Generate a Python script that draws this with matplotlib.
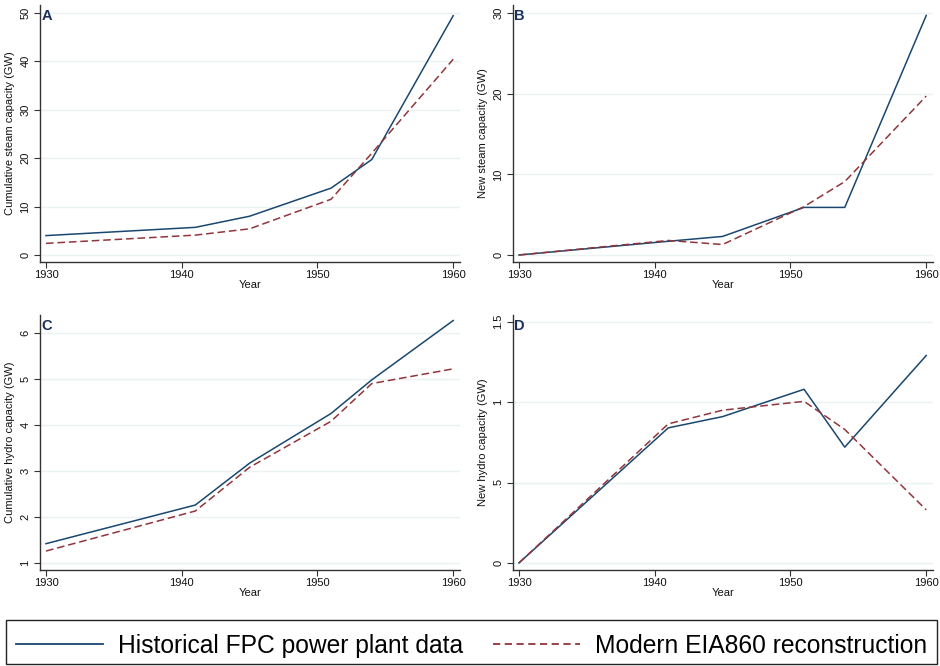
import matplotlib
matplotlib.use("Agg")
import matplotlib.pyplot as plt
from matplotlib.lines import Line2D

plt.rcParams['font.family'] = ['Liberation Sans', 'DejaVu Sans']

years = [1930, 1941, 1945, 1951, 1954, 1960]

cum_steam_fpc = [4.0, 5.7, 8.0, 13.8, 19.7, 49.4]
cum_steam_eia = [2.4, 4.1, 5.4, 11.5, 21.0, 40.4]
new_steam_fpc = [0.0, 1.7, 2.3, 5.9, 5.9, 29.7]
new_steam_eia = [0.0, 1.8, 1.3, 6.0, 9.1, 19.7]
cum_hydro_fpc = [1.42, 2.26, 3.17, 4.25, 4.98, 6.27]
cum_hydro_eia = [1.26, 2.13, 3.08, 4.08, 4.90, 5.22]
new_hydro_fpc = [0.0, 0.84, 0.91, 1.08, 0.72, 1.29]
new_hydro_eia = [0.0, 0.865, 0.95, 1.005, 0.83, 0.33]

panel_letters = ['A', 'B', 'C', 'D']
y_labels = ['Cumulative steam capacity (GW)', 'New steam capacity (GW)',
            'Cumulative hydro capacity (GW)', 'New hydro capacity (GW)']
y_ticks = [[0, 10, 20, 30, 40, 50], [0, 10, 20, 30],
           [1, 2, 3, 4, 5, 6], [0, 0.5, 1, 1.5]]
y_ticklabels = [['0', '10', '20', '30', '40', '50'], ['0', '10', '20', '30'],
                ['1', '2', '3', '4', '5', '6'], ['0', '.5', '1', '1.5']]
y_lims = [(-1.45, 51.6), (-0.87, 31.0), (0.848, 6.39), (-0.044, 1.542)]
x_ticks = [1930, 1940, 1950, 1960]
legend_labels = ['Historical FPC power plant data', 'Modern EIA860 reconstruction']

blue = '#1a476f'
red = '#90353b'
grid_c = '#eaf2f3'

W, H = 940, 666
fig = plt.figure(figsize=(W / 100, H / 100), dpi=100)

# pixel boxes: left, top, right, bottom
boxes = [(40, 5, 460, 262), (513, 5, 933, 262),
         (40, 315, 460, 570), (513, 315, 933, 570)]
series = [(cum_steam_fpc, cum_steam_eia), (new_steam_fpc, new_steam_eia),
          (cum_hydro_fpc, cum_hydro_eia), (new_hydro_fpc, new_hydro_eia)]

for i in range(4):
    l, t, r, b = boxes[i]
    ax = fig.add_axes([l / W, 1 - b / H, (r - l) / W, (b - t) / H])
    fpc, eia = series[i]
    ax.plot(years, fpc, color=blue, lw=1.1, zorder=3)
    ax.plot(years, eia, color=red, lw=1.1, ls=(0, (5, 2.5)), zorder=3)
    ax.set_xlim(1929.56, 1960.5)
    ax.set_ylim(*y_lims[i])
    ax.set_xticks(x_ticks)
    ax.set_yticks(y_ticks[i])
    ax.set_yticklabels(y_ticklabels[i], rotation=90, va='center')
    for yt in y_ticks[i]:
        ax.axhline(yt, color=grid_c, lw=1.0, zorder=1)
    for s in ['top', 'right']:
        ax.spines[s].set_visible(False)
    for s in ['left', 'bottom']:
        ax.spines[s].set_color('#333333')
        ax.spines[s].set_linewidth(1.0)
    ax.tick_params(axis='both', labelsize=8, length=4, width=0.8,
                   color='#333333', labelcolor='#111111', pad=2)
    ax.tick_params(axis='y', pad=3)
    ax.set_xlabel('Year', fontsize=8, labelpad=0, color='#111111')
    ax.set_ylabel(y_labels[i], fontsize=8, labelpad=4, color='#111111')
    ax.text(0.003, 0.985, panel_letters[i], transform=ax.transAxes,
            fontsize=10.5, fontweight='bold', color='#1a2e5c',
            ha='left', va='top')

handles = [Line2D([], [], color=blue, lw=1.3),
           Line2D([], [], color=red, lw=1.3, ls=(0, (4, 2.5)))]
leg = fig.legend(handles, legend_labels, loc='center',
                 bbox_to_anchor=(6 / W, 1 - 668 / H, (937 - 6) / W, (664 - 620) / H),
                 ncol=2, fontsize=17.7, frameon=False,
                 handlelength=3.55, handletextpad=0.6, columnspacing=1.2,
                 borderaxespad=0, borderpad=0.2)
fig.patches.append(plt.Rectangle((6 / W, 1 - 664 / H), (937 - 6) / W, (664 - 620) / H,
                                 transform=fig.transFigure, fill=False,
                                 edgecolor='#222222', lw=1.0))

fig.savefig('out.png', dpi=100, facecolor='white')
